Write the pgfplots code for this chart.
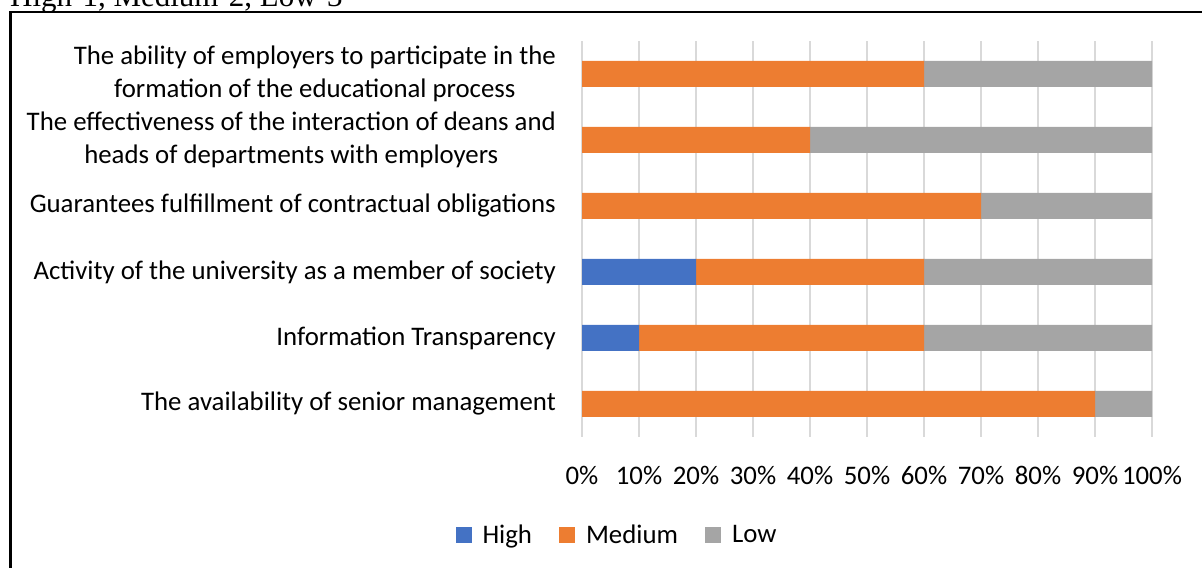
\documentclass[border=0pt]{standalone}
\usepackage{fontspec}
\setmainfont{Carlito}
\newfontfamily\titlefont{Liberation Serif}
\usepackage{pgfplots}
\pgfplotsset{compat=1.18}

\definecolor{cHigh}{HTML}{4472C4}
\definecolor{cMed}{HTML}{ED7D31}
\definecolor{cLow}{HTML}{A5A5A5}
\definecolor{cGrid}{HTML}{D9D9D9}

\begin{document}
\begin{tikzpicture}[x=1bp,y=1bp]
\useasboundingbox (0,0) rectangle (1202,568);

% caption line cut by the top of the picture
\node[anchor=base west, inner sep=0, font=\titlefont\fontsize{31bp}{36bp}\selectfont]
  at (10,561) {High-1, Medium-2, Low-3};
\draw[line width=2.5bp] (10.5,-5) -- (10.5,556) -- (1210,556);

\begin{axis}[
  at={(582bp,131bp)}, anchor=south west,
  scale only axis, width=570bp, height=396bp,
  xbar stacked, bar width=26bp,
  xmin=0, xmax=100, ymin=-0.5, ymax=5.5,
  axis line style={draw=none},
  tick style={draw=none},
  xmajorgrids, grid style={cGrid, line width=1.2bp},
  xtick={0,10,...,100},
  xticklabels={0\%,10\%,20\%,30\%,40\%,50\%,60\%,70\%,80\%,90\%,100\%},
  xticklabel style={anchor=center, inner sep=0pt, yshift=-38bp},
  ytick={0,...,5},
  yticklabels={
    {The availability of senior management},
    {Information Transparency},
    {Activity of the university as a member of society},
    {Guarantees fulfillment of contractual obligations},
    {The effectiveness of the interaction of deans and\\heads of departments with employers},
    {The ability of employers to participate in the\\formation of the educational process}},
  yticklabel style={align=center, anchor=east, inner sep=0pt, xshift=-26bp},
  tick label style={font=\fontsize{26.8bp}{32.5bp}\selectfont},
  legend columns=3,
  legend style={at={(axis description cs:0.0614,-0.2475)}, anchor=center,
    draw=none, font=\fontsize{26.8bp}{32bp}\selectfont,
    /tikz/every odd column/.append style={column sep=9bp},
    /tikz/every even column/.append style={column sep=25bp}},
  legend image code/.code={\fill[#1] (0bp,-8bp) rectangle (16bp,8bp);},
]
\addplot[fill=cHigh, draw=none] coordinates {(0,0) (10,1) (20,2) (0,3) (0,4) (0,5)};
\addplot[fill=cMed, draw=none] coordinates {(90,0) (50,1) (40,2) (70,3) (40,4) (60,5)};
\addplot[fill=cLow, draw=none] coordinates {(10,0) (40,1) (40,2) (30,3) (60,4) (40,5)};
\legend{High,Medium,Low}
\end{axis}
\end{tikzpicture}
\end{document}
